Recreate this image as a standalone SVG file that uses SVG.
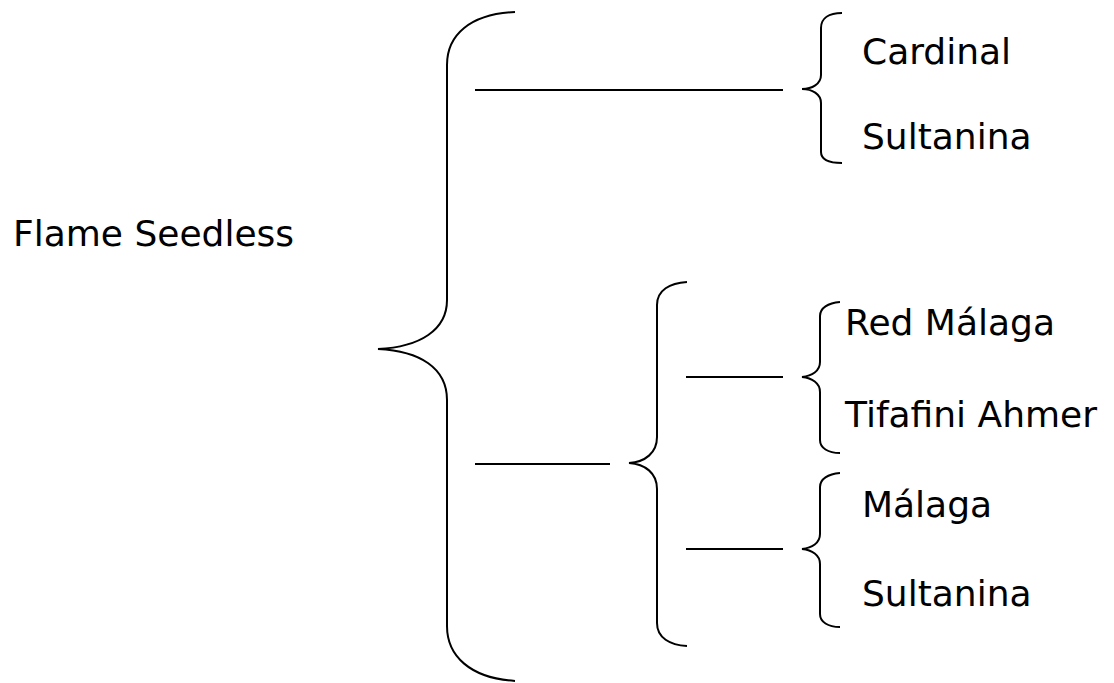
<svg xmlns="http://www.w3.org/2000/svg" width="1114" height="683" viewBox="0 0 1114 683">
<style>
.b{fill:none;stroke:#000;stroke-width:2}
.l{stroke:#000;stroke-width:2}
text{font-family:"DejaVu Sans",Verdana,sans-serif;font-size:36px;fill:#000}
</style>
<rect width="1114" height="683" fill="#fff"/>
<g id="root"><text x="13" y="246">Flame Seedless</text></g>
<g id="connectors">
<path class="b" d="M515,12 C470,14 447,35 447,65 L447,300 C447,330 420,347 378,349 C420,351 447,368 447,400 L447,626 C447,656 470,678 515,681"/>
<line class="l" x1="475" y1="90" x2="783" y2="90"/>
<line class="l" x1="475" y1="464" x2="610" y2="464"/>
<path class="b" d="M842,13 C829,13 821,18 821,28 L821,75 C821,84 812,89 802,89 C812,89 821,94 821,103 L821,152 C821,160 829,163 842,163"/>
<path class="b" d="M687,282 C670,283 657,290 657,305 L657,437 C657,453 645,462 629,463 C645,464 657,473 657,489 L657,623 C657,638 670,645 687,646"/>
<line class="l" x1="686" y1="377" x2="783" y2="377"/>
<line class="l" x1="686" y1="549" x2="783" y2="549"/>
<path class="b" d="M840,302 C828,303 820,308 820,316 L820,362 C820,371 812,376 802,377 C812,378 820,383 820,392 L820,440 C820,448 828,453 840,453"/>
<path class="b" d="M840,473 C828,474 820,479 820,487 L820,534 C820,543 812,548 802,549 C812,550 820,555 820,564 L820,614 C820,622 828,627 840,627"/>
</g>
<g id="n-cardinal"><text x="862" y="64">Cardinal</text></g>
<g id="n-sultanina1"><text x="862" y="149">Sultanina</text></g>
<g id="n-redmalaga"><text x="845" y="335">Red Málaga</text></g>
<g id="n-tifafini"><text x="845" y="427">Tifafini Ahmer</text></g>
<g id="n-malaga"><text x="862" y="517">Málaga</text></g>
<g id="n-sultanina2"><text x="862" y="606">Sultanina</text></g>
</svg>
